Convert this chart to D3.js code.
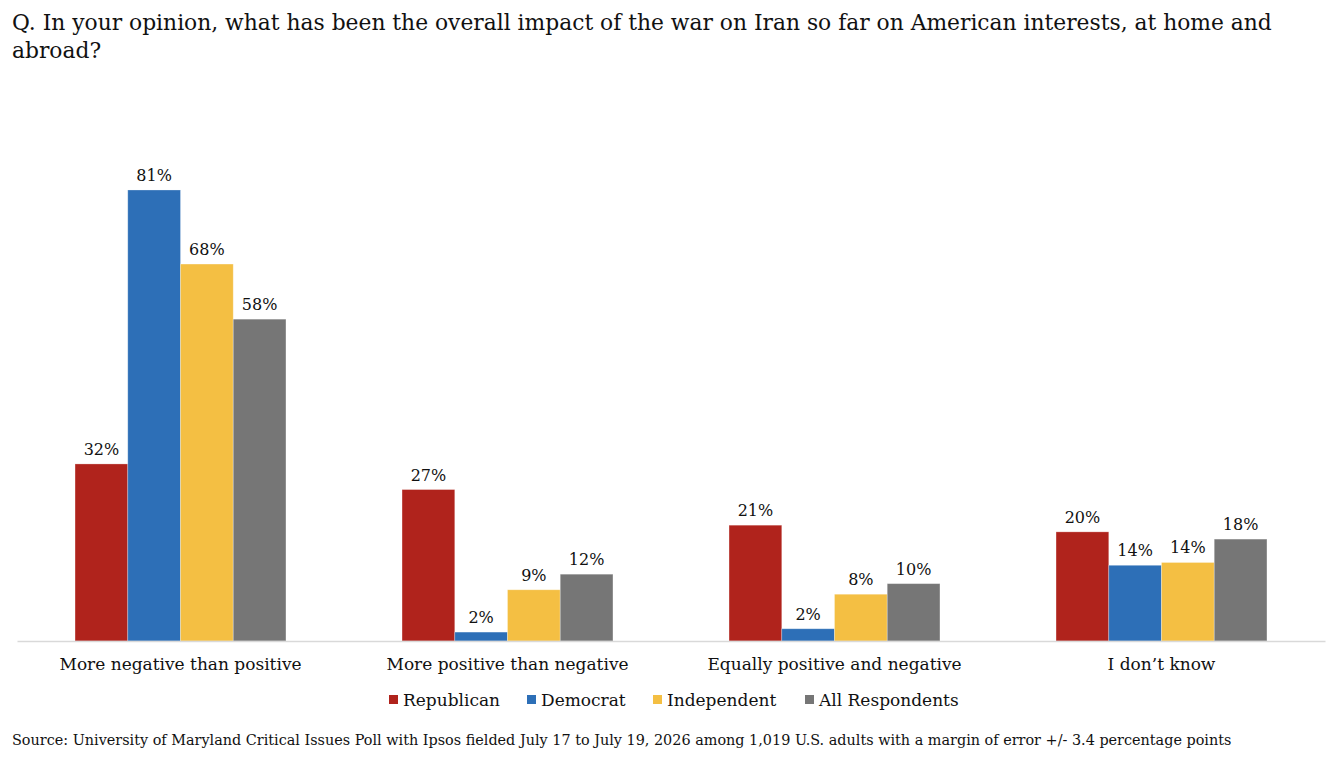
<!DOCTYPE html>
<html>
<head>
<meta charset="utf-8">
<script src="https://cdn.jsdelivr.net/npm/d3@7"></script>
<style>
  body { margin: 0; background: #fff; }
  svg text { font-family: "DejaVu Serif", Georgia, serif; fill: #111; }
</style>
</head>
<body>
<div id="chart"></div>
<script>
// chart data
const categories = ["More negative than positive", "More positive than negative", "Equally positive and negative", "I don\u2019t know"];
const seriesNames = ["Republican", "Democrat", "Independent", "All Respondents"];
const republican = [31.8, 27.2, 20.8, 19.6];
const democrat = [81, 1.6, 2.2, 13.6];
const independent = [67.7, 9.2, 8.4, 14.1];
const allRespondents = [57.8, 12, 10.3, 18.3];
const labels = [
    ["32%", "27%", "21%", "20%"],
    ["81%", "2%", "2%", "14%"],
    ["68%", "9%", "8%", "14%"],
    ["58%", "12%", "10%", "18%"]
];
const colors = ["#B0231C", "#2D6FB7", "#F4BF43", "#767676"];
const titleLines = ["Q. In your opinion, what has been the overall impact of the war on Iran so far on American interests, at home and", "abroad?"];
const sourceText = "Source: University of Maryland Critical Issues Poll with Ipsos fielded July 17 to July 19, 2026 among 1,019 U.S. adults with a margin of error +/- 3.4 percentage points";

const W = 1344, H = 766;
const series = [republican, democrat, independent, allRespondents];

let svg = d3.select("#chart").append("svg")
    .attr("width", W)
    .attr("height", H);

// title
svg.append("text")
    .attr("class", "title")
    .attr("x", 12)
    .attr("y", 30)
    .style("font-size", "21.8px")
    .selectAll("tspan")
    .data(titleLines)
    .enter().append("tspan")
    .attr("x", 12)
    .attr("dy", (d, i) => i === 0 ? 0 : 28)
    .text(d => d);

// scales
let x0 = d3.scaleBand()
    .domain(categories)
    .range([17, 1325]);

let groupWidth = x0.bandwidth() * 0.645;

let x1 = d3.scaleBand()
    .domain(seriesNames)
    .range([0, groupWidth]);

let y = d3.scaleLinear()
    .domain([0, 100])
    .range([641, 641 - 556.8]);

// flatten for bars
let barData = [];
categories.forEach((c, ci) => {
    seriesNames.forEach((s, si) => {
        barData.push({ category: c, series: s, value: series[si][ci], label: labels[si][ci], color: colors[si] });
    });
});

let barX = d => x0(d.category) + (x0.bandwidth() - groupWidth) / 2 + x1(d.series);

svg.selectAll(".bar")
    .data(barData)
    .enter().append("rect")
    .attr("class", "bar")
    .attr("x", barX)
    .attr("width", x1.bandwidth())
    .attr("y", d => y(d.value))
    .attr("height", d => y(0) - y(d.value))
    .attr("fill", d => d.color)
    .attr("stroke", "rgba(255,255,255,0.35)")
    .attr("stroke-width", 0.8);

// value labels
svg.selectAll(".val")
    .data(barData)
    .enter().append("text")
    .attr("class", "val")
    .attr("x", d => barX(d) + x1.bandwidth() / 2)
    .attr("y", d => y(d.value) - 9)
    .attr("text-anchor", "middle")
    .style("font-size", "16px")
    .text(d => d.label);

// x axis
let xAxis = d3.axisBottom(x0).tickSize(0).tickPadding(17);
let gx = svg.append("g")
    .attr("class", "x-axis")
    .attr("transform", "translate(0," + y(0) + ")")
    .call(xAxis);
gx.select(".domain").attr("stroke", "#D9D9D9").attr("stroke-width", 1.5);
gx.selectAll("text")
    .style("font-size", "17px")
    .style("font-family", "\"DejaVu Serif\", Georgia, serif")
    .attr("fill", "#111");

// legend
let legendX = [389, 527, 653, 805];
let legend = svg.selectAll(".legend")
    .data(seriesNames)
    .enter().append("g")
    .attr("class", "legend")
    .attr("transform", (d, i) => "translate(" + legendX[i] + ",700)");
legend.append("rect")
    .attr("x", 0)
    .attr("y", -5)
    .attr("width", 9)
    .attr("height", 9)
    .attr("fill", (d, i) => colors[i]);
legend.append("text")
    .attr("x", 14)
    .attr("y", 5.5)
    .style("font-size", "17px")
    .text(d => d);

// source
svg.append("text")
    .attr("x", 12)
    .attr("y", 745)
    .style("font-size", "14.4px")
    .text(sourceText);
</script>
</body>
</html>
